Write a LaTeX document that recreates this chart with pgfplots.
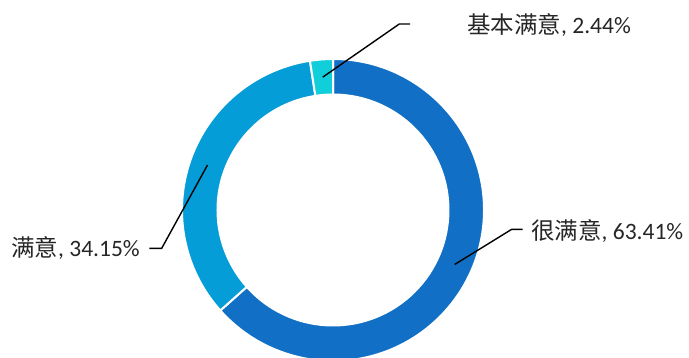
\documentclass[border=0pt]{standalone}
\usepackage{pgfplots}
\pgfplotsset{compat=1.18}
\usepackage{pgfplotstable}
\usepackage{fontspec}
\setmainfont{Carlito}
\newfontfamily\cjk{Noto Sans CJK SC}

\definecolor{slice0}{HTML}{1170C6}
\definecolor{slice1}{HTML}{049DD8}
\definecolor{slice2}{HTML}{10CFDA}

% share of answers, in percent, clockwise from the top
\pgfplotstableread{
value
63.41
34.15
2.44
}\donut

% start, end and middle angle of each ring piece
\def\acc{90}
\pgfplotsinvokeforeach{0,1,2}{%
  \pgfplotstablegetelem{#1}{value}\of\donut
  \pgfmathsetmacro\wspan{\pgfplotsretval*3.6}
  \pgfmathsetmacro\wend{\acc-\wspan}
  \pgfmathsetmacro\wmid{\acc-\wspan/2}
  \expandafter\xdef\csname start#1\endcsname{\acc}
  \expandafter\xdef\csname end#1\endcsname{\wend}
  \expandafter\xdef\csname mid#1\endcsname{\wmid}
  \xdef\acc{\wend}
}
\newcommand\ang[2]{\csname #1#2\endcsname}

\begin{document}
\begin{tikzpicture}
\begin{axis}[
  name=ax,
  width=689bp, height=358bp, scale only axis,
  xmin=0, xmax=689, ymin=0, ymax=358, y dir=reverse,
  hide axis, clip=false,
]
\pgfplotsinvokeforeach{0,1,2}{
  \fill[slice#1, draw=white, line width=2bp, shift={(axis cs:333,210)}]
    (\ang{start}{#1}:151bp)
    arc[start angle=\ang{start}{#1}, end angle=\ang{end}{#1}, radius=151bp]
    -- (\ang{end}{#1}:115.5bp)
    arc[start angle=\ang{end}{#1}, end angle=\ang{start}{#1}, radius=115.5bp]
    -- cycle;
}
% leader lines
\draw[black, line width=1.4bp] ([shift={(\ang{mid}{2}:133.3bp)}]axis cs:333,210) -- (axis cs:399.3,24) -- (axis cs:410,24);
\draw[black, line width=1.4bp] ([shift={(\ang{mid}{0}:133.3bp)}]axis cs:333,210) -- (axis cs:511.7,229.3) -- (axis cs:522.7,229.3);
\draw[black, line width=1.4bp] ([shift={(\ang{mid}{1}:133.3bp)}]axis cs:333,210) -- (axis cs:161.7,248.3) -- (axis cs:149.3,248.3);
% labels
\begin{scope}[every node/.style={anchor=base west, inner sep=0pt, text=black!85,
    font=\fontsize{23.5bp}{28bp}\selectfont}]
\node at (axis cs:467,33) {{\cjk 基本满意}, 2.44\%};
\node at (axis cs:531,239) {{\cjk 很满意}, 63.41\%};
\node at (axis cs:11,256.5) {{\cjk 满意}, 34.15\%};
\end{scope}
\end{axis}
\pgfresetboundingbox
\path (ax.south west) rectangle (ax.north east);
\end{tikzpicture}
\end{document}
